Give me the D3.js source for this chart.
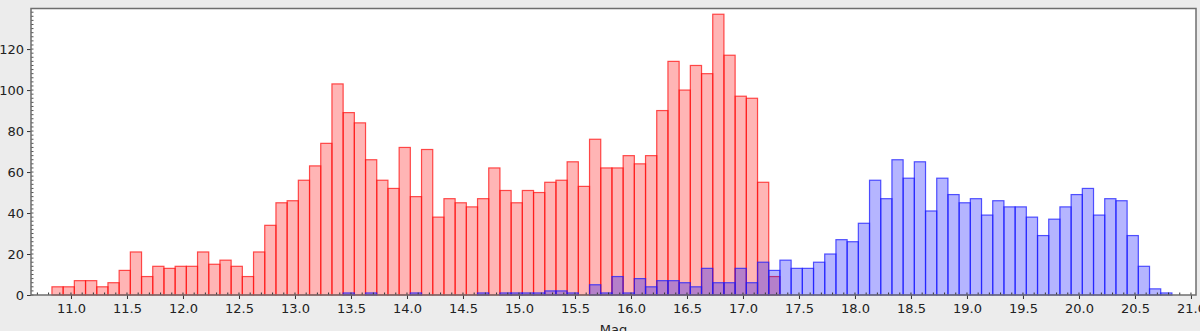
<!DOCTYPE html>
<html>
<head>
<meta charset="utf-8">
<script src="https://cdn.jsdelivr.net/npm/d3@7"></script>
<style>
  body { margin: 0; background: #ececec; }
  .axis text { font-family: "DejaVu Sans", sans-serif; font-size: 13px; fill: #222; }
</style>
</head>
<body>
<div class="chart"></div>
<script>
// histogram bins, width 0.1 mag
const binWidth = 0.1;
const redStart = 10.83;
const redCounts = [4, 4, 7, 7, 4, 6, 12, 21, 9, 14, 13, 14, 14, 21, 15, 17, 14, 9, 21, 34,
  45, 46, 56, 63, 74, 103, 89, 84, 66, 56, 52, 72, 48, 71, 38, 47, 45, 43, 47, 62,
  51, 45, 51, 50, 55, 56, 65, 53, 76, 62, 62, 68, 64, 68, 90, 114, 100, 112, 108, 137,
  117, 97, 96, 55, 9];
const blueStart = 13.43;
const blueCounts = [1, 0, 1, 0, 0, 0, 1, 0, 0, 0, 0, 0, 1, 0, 1, 1, 1, 1, 2, 2,
  1, 0, 5, 1, 9, 1, 8, 4, 7, 7, 6, 4, 13, 6, 6, 13, 6, 16, 12, 17,
  13, 13, 16, 20, 27, 26, 35, 56, 47, 66, 57, 65, 41, 57, 49, 45, 47, 39, 46, 43,
  43, 38, 29, 37, 43, 49, 52, 39, 47, 46, 29, 14, 3, 1];
const xTicks = [11.0, 11.5, 12.0, 12.5, 13.0, 13.5, 14.0, 14.5, 15.0, 15.5, 16.0, 16.5,
  17.0, 17.5, 18.0, 18.5, 19.0, 19.5, 20.0, 20.5, 21.0];
const yTicks = [0, 20, 40, 60, 80, 100, 120];

const width = 1200, height = 331;
const plot = {left: 31, top: 8.5, right: 1196, bottom: 295};

const svg = d3.select('.chart').append('svg')
    .attr('width', width)
    .attr('height', height)
    .style('display', 'block');

const xScale = d3.scaleLinear().domain([10.643, 21.045]).range([plot.left, plot.right]);
const yScale = d3.scaleLinear().domain([0, 139.8]).range([plot.bottom, plot.top]);

svg.append('rect')
    .attr('x', plot.left).attr('y', plot.top)
    .attr('width', plot.right - plot.left).attr('height', plot.bottom - plot.top)
    .style('fill', '#fff');

function toBins(start, counts) {
  return counts.map((c, i) => ({x0: start + i * binWidth, count: c})).filter(d => d.count > 0);
}

function drawBars(bins, fill, stroke) {
  svg.append('g').selectAll('rect')
    .data(bins)
    .enter()
    .append('rect')
    .attr('x', d => xScale(d.x0))
    .attr('y', d => yScale(d.count))
    .attr('width', d => xScale(d.x0 + binWidth) - xScale(d.x0))
    .attr('height', d => yScale(0) - yScale(d.count))
    .style('fill', fill)
    .style('stroke', stroke)
    .style('stroke-width', 1.2);
}

drawBars(toBins(redStart, redCounts), 'rgba(255,0,0,0.29)', 'rgba(255,20,20,0.75)');
drawBars(toBins(blueStart, blueCounts), 'rgba(0,0,255,0.29)', 'rgba(30,30,255,0.75)');

// minor ticks
const xMinor = d3.range(107, 211).map(v => v / 10);
const yMinor = d3.range(0, 140, 2);

const xAxis = d3.axisBottom(xScale).tickValues(xTicks).tickFormat(d3.format('.1f')).tickSizeInner(4).tickSizeOuter(0).tickPadding(5);
const yAxis = d3.axisLeft(yScale).tickValues(yTicks).tickSizeInner(4).tickSizeOuter(0).tickPadding(3);

const gx = svg.append('g').attr('class', 'axis x-axis')
    .attr('transform', `translate(0, ${plot.bottom})`)
    .call(xAxis);
gx.select('.domain').remove();
gx.selectAll('line').style('stroke', '#333');

gx.selectAll('.minor')
    .data(xMinor)
    .enter()
    .append('line')
    .attr('x1', d => xScale(d)).attr('x2', d => xScale(d))
    .attr('y1', 0).attr('y2', -2.5)
    .style('stroke', '#333');

const gy = svg.append('g').attr('class', 'axis y-axis')
    .attr('transform', `translate(${plot.left}, 0)`)
    .call(yAxis);
gy.select('.domain').remove();
gy.selectAll('line').style('stroke', '#333');

gy.selectAll('.minor')
    .data(yMinor)
    .enter()
    .append('line')
    .attr('x1', 0).attr('x2', 2.5)
    .attr('y1', d => yScale(d)).attr('y2', d => yScale(d))
    .style('stroke', '#555');

// frame
svg.append('rect')
    .attr('x', plot.left).attr('y', plot.top)
    .attr('width', plot.right - plot.left).attr('height', plot.bottom - plot.top)
    .style('fill', 'none')
    .style('stroke', '#6e6e6e')
    .style('stroke-width', 1.5);

svg.append('text')
    .attr('x', (plot.left + plot.right) / 2)
    .attr('y', 334)
    .attr('text-anchor', 'middle')
    .style('font-family', '"DejaVu Sans", sans-serif')
    .style('font-size', '13px')
    .style('fill', '#222')
    .text('Mag');
</script>
</body>
</html>
